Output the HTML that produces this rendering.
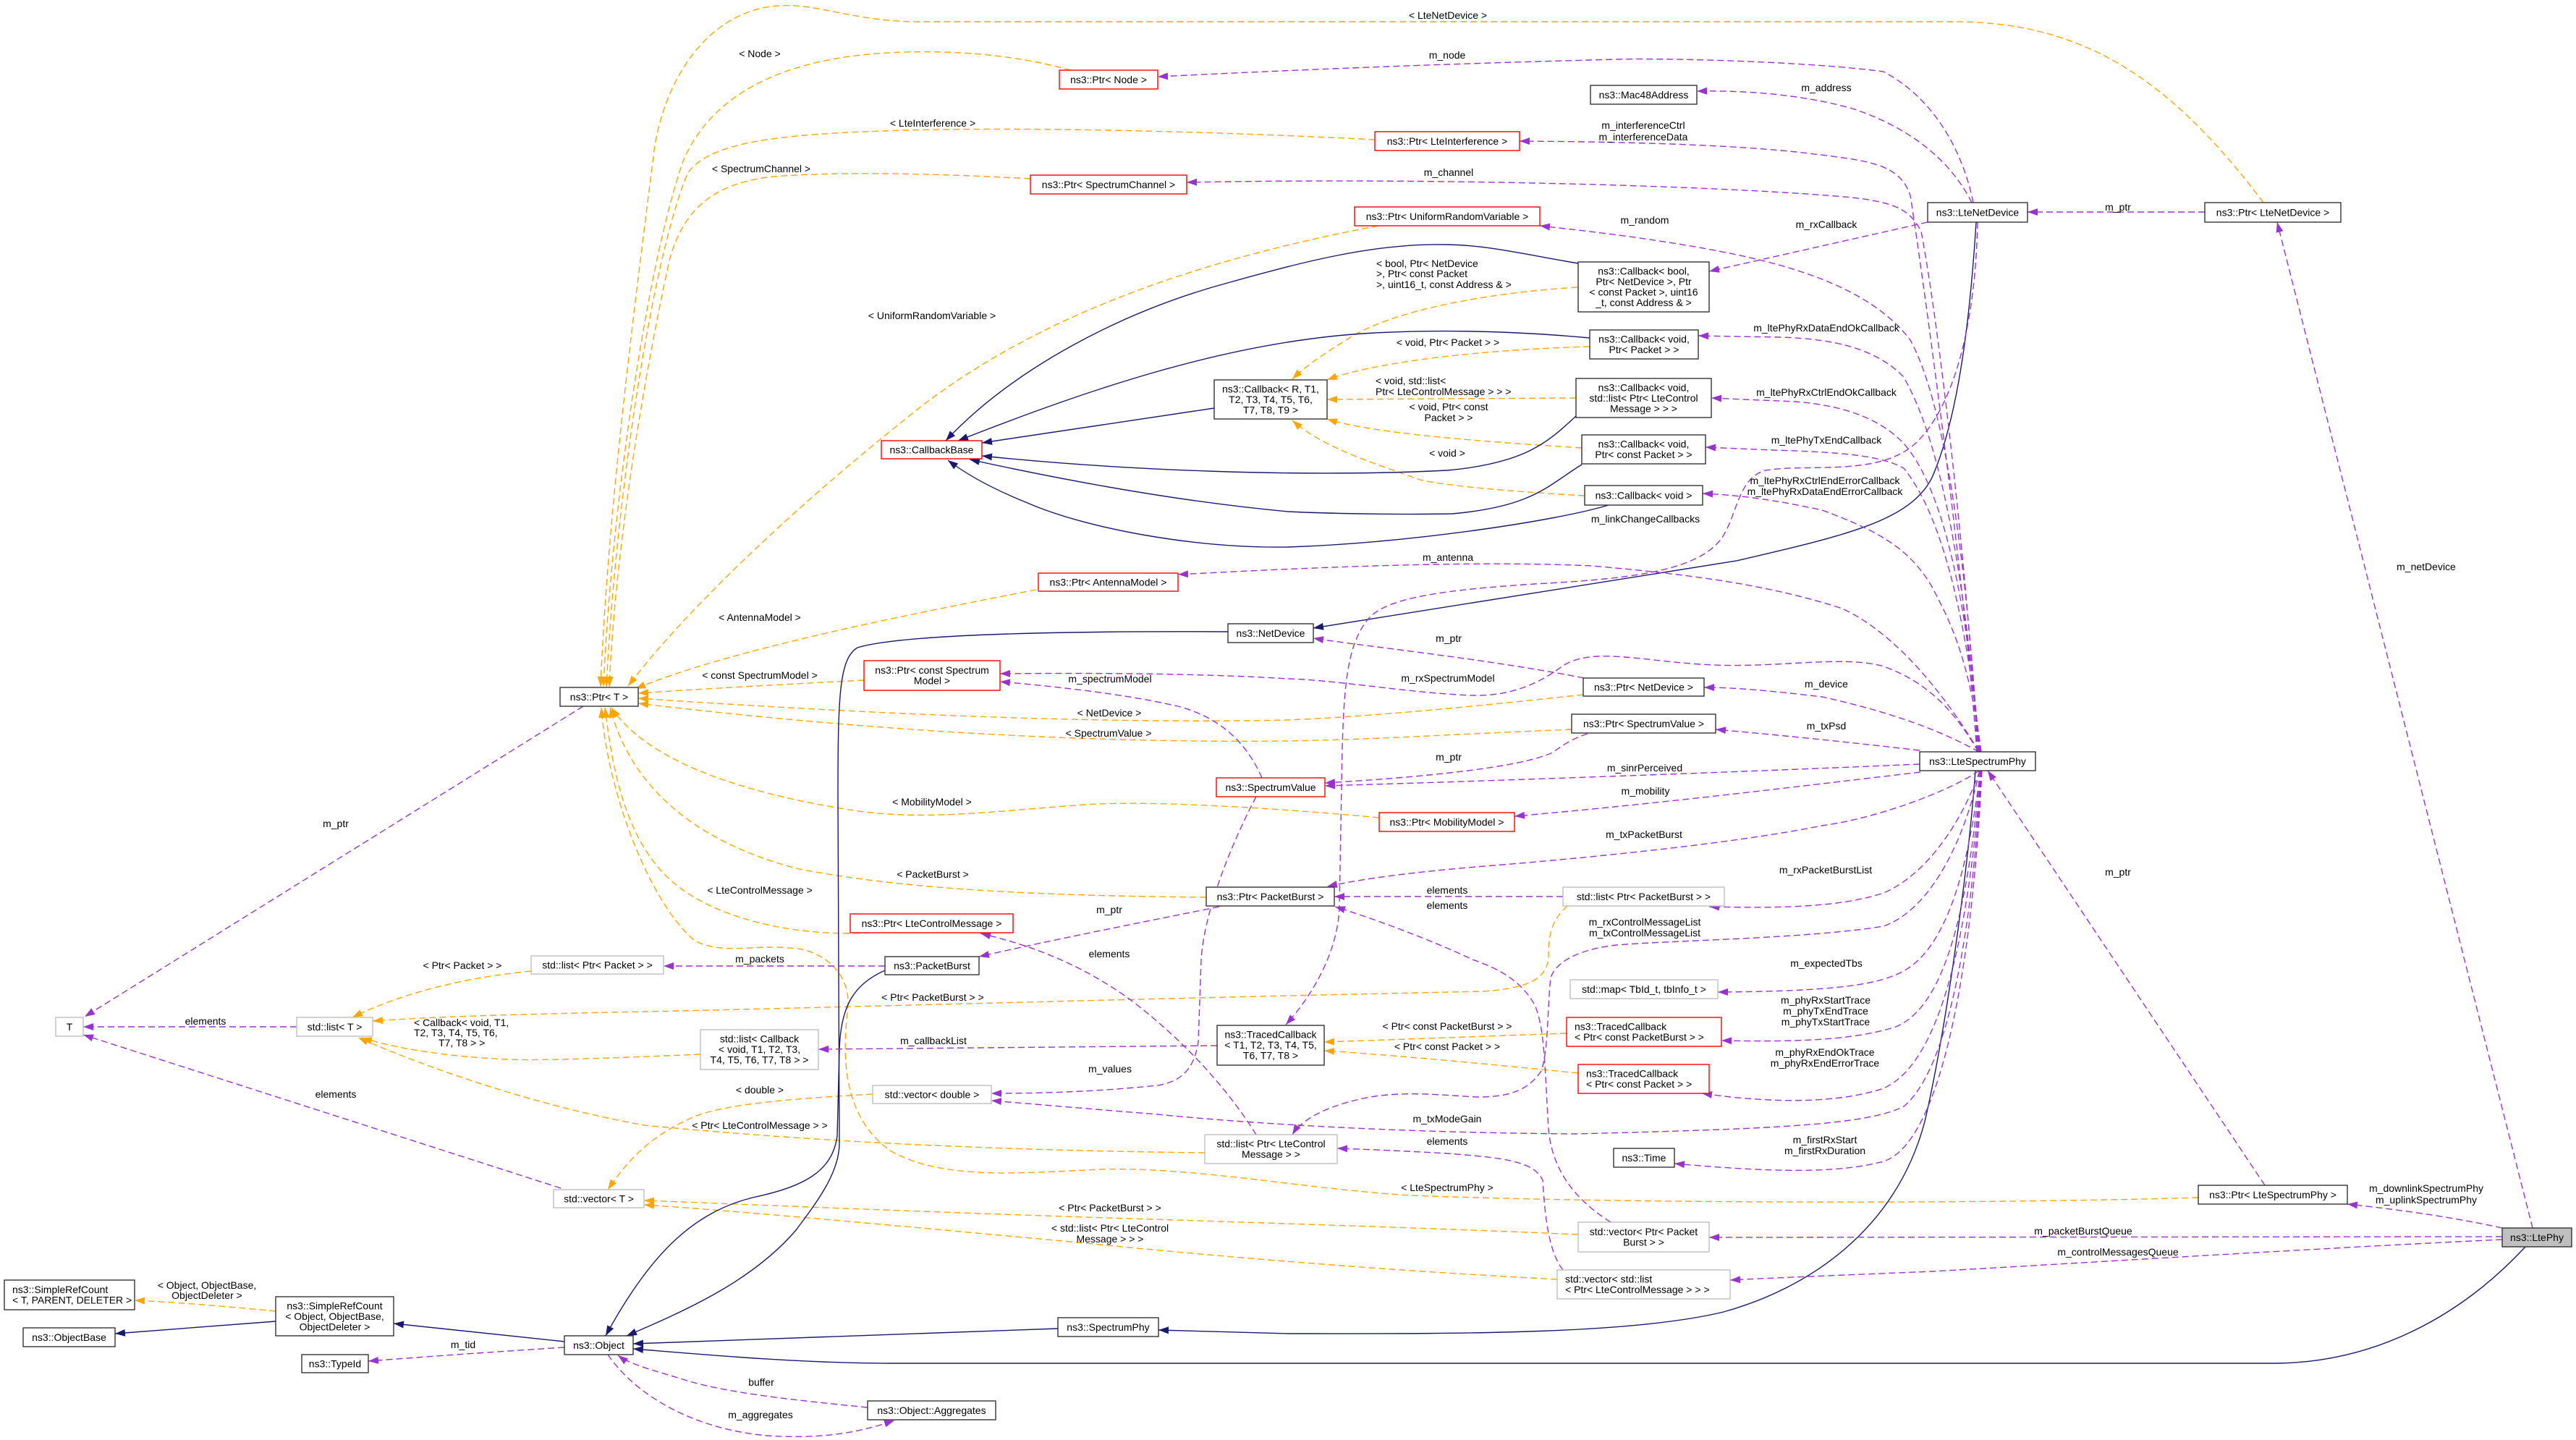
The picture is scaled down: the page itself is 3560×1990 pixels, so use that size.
<!DOCTYPE html>
<html><head><meta charset="utf-8"><style>
html,body{margin:0;padding:0;background:#fff;}
svg{display:block;}
.p{stroke:#9a32cd;fill:none;stroke-width:1.4;stroke-dasharray:9 5;marker-end:url(#mp);}
.o{stroke:#ffa500;fill:none;stroke-width:1.4;stroke-dasharray:9 5;marker-end:url(#mo);}
.n{stroke:#191970;fill:none;stroke-width:1.4;marker-end:url(#mn);}
.bk{fill:#fff;stroke:#333;stroke-width:1.4;}
.rd{fill:#fff;stroke:#ff0000;stroke-width:1.4;}
.gy{fill:#fff;stroke:#bfbfbf;stroke-width:1.4;}
text{font-family:"Liberation Sans",sans-serif;font-size:14px;fill:#000;}
.c{text-anchor:middle;}
</style></head><body>
<svg width="3560" height="1990" viewBox="0 0 3560 1990" xmlns="http://www.w3.org/2000/svg">
<defs>
<marker id="mp" viewBox="0 0 14 10" refX="14" refY="5" markerWidth="14" markerHeight="10" markerUnits="userSpaceOnUse" orient="auto"><path d="M0,0 L14,5 L0,10 z" fill="#9a32cd"/></marker>
<marker id="mo" viewBox="0 0 14 10" refX="14" refY="5" markerWidth="14" markerHeight="10" markerUnits="userSpaceOnUse" orient="auto"><path d="M0,0 L14,5 L0,10 z" fill="#ffa500"/></marker>
<marker id="mn" viewBox="0 0 14 10" refX="14" refY="5" markerWidth="14" markerHeight="10" markerUnits="userSpaceOnUse" orient="auto"><path d="M0,0 L14,5 L0,10 z" fill="#191970"/></marker>
</defs>

<!-- ORANGE template edges -->
<path class="o" d="M3128 280 C3000 110,2880 30,2700 30 L1270 30 C1180 30,1130 4,1075 8 C990 14,925 90,905 200 C880 400,840 700,830 949"/>
<path class="o" d="M1480 97 C1400 75,1320 70,1250 72 C1100 76,990 120,945 220 C895 360,845 700,834 949"/>
<path class="o" d="M1900 193 C1700 183,1450 175,1250 180 C1080 185,980 195,950 240 C900 360,850 700,838 949"/>
<path class="o" d="M1424 247 C1300 240,1150 236,1060 245 C990 255,945 285,925 360 C890 520,850 760,842 949"/>
<path class="o" d="M1905 312 C1650 360,1420 440,1250 580 C1100 700,950 840,868 948"/>
<path class="o" d="M1432 815 C1250 850,1000 900,878 952"/>
<path class="o" d="M1194 940 C1100 945,1000 950,882 958"/>
<path class="o" d="M2188 960 C2050 975,1900 990,1780 995 C1550 1000,1250 990,882 965"/>
<path class="o" d="M2172 1008 C2000 1015,1900 1022,1780 1024 C1500 1027,1200 1010,882 972"/>
<path class="o" d="M1906 1130 C1800 1120,1600 1105,1500 1112 C1380 1120,1280 1135,1180 1120 C1050 1100,900 1060,845 978"/>
<path class="o" d="M1667 1240 C1450 1238,1250 1230,1100 1200 C950 1160,870 1080,843 978"/>
<path class="o" d="M1202 1289 C1100 1295,980 1270,920 1210 C860 1150,845 1050,836 978"/>
<path class="o" d="M3038 1655 C2700 1665,2200 1662,1950 1652 C1800 1643,1650 1612,1520 1616 C1400 1622,1300 1630,1230 1590 C1160 1540,1165 1450,1172 1390 C1175 1340,1130 1310,1090 1310 C1040 1305,1000 1320,960 1300 C900 1250,840 1100,831 978"/>
<path class="o" d="M734 1342 C650 1350,560 1370,487 1406"/>
<path class="o" d="M2166 1252 C2140 1275,2140 1300,2140 1326 C2135 1350,2120 1365,2050 1370 L1780 1376 C1400 1385,1000 1396,890 1398 C700 1402,600 1405,515 1411"/>
<path class="o" d="M968 1457 C850 1462,750 1466,700 1464 C620 1460,550 1450,500 1434"/>
<path class="o" d="M1665 1593 C1400 1590,1150 1580,890 1555 C750 1530,600 1480,495 1434"/>
<path class="o" d="M1206 1512 C1100 1518,1000 1525,955 1545 C900 1570,870 1600,840 1644"/>
<path class="o" d="M2181 1706 C2000 1698,1780 1691,1500 1682 C1200 1672,1000 1663,890 1659"/>
<path class="o" d="M2152 1768 C2000 1760,1780 1746,1500 1718 C1200 1690,1000 1672,890 1665"/>
<path class="o" d="M2165 1428 C2050 1432,1950 1436,1830 1440"/>
<path class="o" d="M2181 1483 C2050 1470,1950 1460,1830 1452"/>
<path class="o" d="M381 1812 C320 1806,250 1800,186 1797"/>
<path class="o" d="M2180 397 C2050 405,1920 430,1860 470 C1820 495,1800 510,1786 524"/>
<path class="o" d="M2197 479 C2050 483,1900 500,1834 525"/>
<path class="o" d="M2178 550 L1834 552"/>
<path class="o" d="M2186 619 C2050 610,1900 600,1834 579"/>
<path class="o" d="M2190 685 C2100 680,2000 672,1962 663 C1900 640,1830 620,1786 581"/>

<!-- NAVY inheritance edges -->
<path class="n" d="M2181 364 C2100 350,2050 338,1996 338 C1900 336,1800 362,1700 390 C1550 430,1400 510,1307 609"/>
<path class="n" d="M2197 467 C2100 458,2000 455,1900 460 C1700 470,1500 540,1324 609"/>
<path class="n" d="M1678 564 L1357 612"/>
<path class="n" d="M2178 575 C2140 610,2110 640,2000 650 C1800 660,1550 650,1357 630"/>
<path class="n" d="M2186 642 C2140 670,2120 700,2007 710 C1900 712,1800 708,1780 707 C1650 695,1500 670,1340 635"/>
<path class="n" d="M2223 698 C2150 720,1950 750,1780 756 C1650 758,1500 730,1420 695 C1370 675,1335 655,1310 636"/>
<path class="n" d="M2731 307 C2722 450,2705 580,2670 660 C2640 720,2550 740,2400 775 L1815 868"/>
<path class="n" d="M1697 873 C1500 872,1250 875,1185 895 C1160 910,1158 960,1158 1100 L1160 1580 C1160 1620,1130 1660,1100 1700 C1040 1770,950 1810,866 1846"/>
<path class="n" d="M1223 1341 C1180 1360,1162 1390,1160 1450 L1157 1570 C1150 1620,1110 1640,1040 1655 C960 1675,900 1730,837 1846"/>
<path class="n" d="M1462 1836 C1200 1845,1000 1852,875 1857"/>
<path class="n" d="M3490 1723 C3400 1820,3280 1884,3141 1884 L1231 1884 C1100 1884,950 1870,875 1864"/>
<path class="n" d="M2730 1065 C2720 1200,2690 1420,2660 1550 C2620 1700,2500 1780,2382 1813 C2250 1845,2000 1843,1780 1843 L1601 1838"/>
<path class="n" d="M780 1854 L544 1829"/>
<path class="n" d="M381 1826 L159 1843"/>

<!-- PURPLE usage edges -->
<path class="p" d="M2727 280 C2715 220,2680 140,2603 99 C2500 85,2300 80,2234 82 C2000 88,1800 96,1600 106"/>
<path class="p" d="M2725 280 C2700 230,2650 180,2560 150 C2480 128,2400 125,2345 126"/>
<path class="p" d="M2732 1039 C2715 800,2660 400,2640 270 C2625 225,2580 222,2500 212 C2400 200,2250 196,2100 195"/>
<path class="p" d="M2733 1039 C2720 800,2680 450,2655 320 C2640 290,2620 280,2560 273 C2400 258,2000 245,1640 252"/>
<path class="p" d="M2734 1039 C2720 800,2690 560,2640 470 C2580 390,2450 360,2348 342 C2250 325,2180 318,2128 312"/>
<path class="p" d="M2664 307 L2362 375"/>
<path class="p" d="M2735 1039 C2720 850,2690 620,2630 520 C2590 480,2530 468,2460 466 L2347 464"/>
<path class="p" d="M2736 1039 C2720 850,2690 680,2631 613 C2600 580,2550 560,2480 555 L2365 550"/>
<path class="p" d="M2737 1039 C2720 880,2690 720,2631 647 C2600 630,2550 625,2450 622 L2357 618"/>
<path class="p" d="M2738 1039 C2720 900,2690 850,2670 811 C2640 760,2600 735,2518 705 C2450 690,2400 684,2353 682"/>
<path class="p" d="M2733 307 C2730 450,2700 560,2650 610 C2600 660,2500 640,2440 650 C2400 660,2400 720,2376 748 C2340 790,2250 800,2121 807 C2000 815,1920 825,1893 853 C1860 890,1856 950,1854 1086 L1851 1255 C1848 1320,1810 1380,1777 1416"/>
<path class="p" d="M2735 1039 C2700 980,2630 880,2546 841 C2450 810,2350 795,2200 782 C2050 775,1850 782,1628 794"/>
<path class="p" d="M2189 937 C2050 910,1900 895,1815 882"/>
<path class="p" d="M2734 1039 C2700 980,2660 940,2600 920 C2540 905,2450 925,2350 918 C2260 912,2200 895,2160 920 C2120 950,2080 962,2035 961 C1950 958,1850 940,1780 938 C1650 930,1500 930,1382 931"/>
<path class="p" d="M1744 1075 C1720 1020,1680 990,1628 976 C1550 958,1450 948,1382 942"/>
<path class="p" d="M2735 1039 C2700 1020,2640 990,2518 963 C2450 955,2400 950,2355 950"/>
<path class="p" d="M2653 1037 C2550 1025,2450 1015,2371 1008"/>
<path class="p" d="M2194 1014 C2160 1025,2150 1040,2138 1043 C2100 1058,2000 1072,1831 1082"/>
<path class="p" d="M2653 1056 C2450 1065,2100 1078,1831 1086"/>
<path class="p" d="M2654 1067 C2500 1085,2300 1110,2093 1128"/>
<path class="p" d="M2735 1065 C2700 1090,2600 1130,2518 1141 C2400 1165,2200 1185,2064 1196 C1950 1205,1880 1215,1834 1225"/>
<path class="p" d="M2160 1239 L1844 1239"/>
<path class="p" d="M2226 1689 C2180 1660,2145 1620,2140 1560 C2135 1480,2135 1420,2121 1389 C2100 1350,2060 1335,2035 1326 C1980 1300,1900 1270,1845 1253"/>
<path class="p" d="M2736 1065 C2710 1140,2660 1210,2603 1234 C2540 1255,2450 1255,2362 1253"/>
<path class="p" d="M2736 1065 C2710 1180,2660 1260,2603 1280 C2500 1297,2300 1300,2234 1306 C2180 1312,2150 1330,2143 1351 C2138 1400,2140 1450,2130 1480 C2110 1510,2080 1516,2041 1516 C2000 1514,1950 1508,1900 1515 C1840 1525,1800 1545,1786 1568"/>
<path class="p" d="M2737 1065 C2720 1200,2690 1320,2620 1347 C2580 1365,2500 1370,2374 1371"/>
<path class="p" d="M2737 1065 C2720 1250,2690 1390,2620 1419 C2560 1438,2480 1440,2379 1438"/>
<path class="p" d="M2738 1065 C2720 1300,2680 1470,2603 1504 C2540 1525,2450 1525,2352 1511"/>
<path class="p" d="M2738 1065 C2725 1300,2690 1480,2631 1529 C2580 1555,2450 1560,2177 1567 C1900 1565,1700 1550,1600 1540 C1500 1532,1420 1525,1370 1521"/>
<path class="p" d="M1736 1101 C1710 1150,1665 1250,1660 1326 L1656 1440 C1650 1480,1630 1495,1600 1500 C1520 1508,1450 1511,1370 1511"/>
<path class="p" d="M1682 1445 L1131 1450"/>
<path class="p" d="M1685 1253 C1550 1280,1450 1300,1353 1322"/>
<path class="p" d="M1223 1335 L917 1335"/>
<path class="p" d="M1736 1568 C1700 1510,1640 1440,1560 1380 C1490 1330,1420 1305,1355 1290"/>
<path class="p" d="M2160 1755 C2140 1730,2135 1680,2132 1631 C2120 1605,2080 1600,2000 1594 C1930 1590,1880 1588,1848 1587"/>
<path class="p" d="M2739 1065 C2725 1350,2680 1580,2603 1605 C2540 1622,2450 1620,2314 1608"/>
<path class="p" d="M3130 1638 L2747 1065"/>
<path class="p" d="M3500 1697 L3147 307"/>
<path class="p" d="M3458 1697 C3380 1680,3300 1670,3244 1664"/>
<path class="p" d="M3458 1709 L2362 1710"/>
<path class="p" d="M3458 1713 C3200 1725,2800 1750,2670 1757 C2550 1762,2450 1766,2391 1769"/>
<path class="p" d="M3047 293 L2802 293"/>
<path class="p" d="M806 976 L117 1405"/>
<path class="p" d="M410 1419 L115 1419"/>
<path class="p" d="M775 1642 L115 1430"/>
<path class="p" d="M780 1862 C700 1867,600 1874,509 1881"/>
<path class="p" d="M1199 1945 C1100 1935,1000 1925,940 1905 C900 1893,870 1885,854 1873"/>
<path class="p" d="M840 1872 C880 1930,960 1975,1060 1984 C1150 1990,1200 1975,1236 1963"/>

<!-- EDGE LABELS -->
<g class="c">
<text x="2001" y="26">&lt; LteNetDevice &gt;</text>
<text x="1050" y="79">&lt; Node &gt;</text>
<text x="2000" y="81">m_node</text>
<text x="2524" y="126">m_address</text>
<text x="2271" y="178">m_interferenceCtrl</text>
<text x="2271" y="194">m_interferenceData</text>
<text x="1289" y="175">&lt; LteInterference &gt;</text>
<text x="1052" y="238">&lt; SpectrumChannel &gt;</text>
<text x="2002" y="243">m_channel</text>
<text x="2273" y="309">m_random</text>
<text x="2524" y="315">m_rxCallback</text>
<text x="2927" y="291">m_ptr</text>
<text x="1288" y="441">&lt; UniformRandomVariable &gt;</text>
<text x="2524" y="458">m_ltePhyRxDataEndOkCallback</text>
<text x="2001" y="478">&lt; void, Ptr&lt; Packet &gt; &gt;</text>
<text x="2524" y="547">m_ltePhyRxCtrlEndOkCallback</text>
<text x="2002" y="567">&lt; void, Ptr&lt; const</text>
<text x="2002" y="582">Packet &gt; &gt;</text>
<text x="2524" y="613">m_ltePhyTxEndCallback</text>
<text x="2000" y="631">&lt; void &gt;</text>
<text x="2522" y="669">m_ltePhyRxCtrlEndErrorCallback</text>
<text x="2522" y="684">m_ltePhyRxDataEndErrorCallback</text>
<text x="2274" y="722">m_linkChangeCallbacks</text>
<text x="2001" y="775">m_antenna</text>
<text x="1050" y="858">&lt; AntennaModel &gt;</text>
<text x="2002" y="887">m_ptr</text>
<text x="1050" y="938">&lt; const SpectrumModel &gt;</text>
<text x="2001" y="942">m_rxSpectrumModel</text>
<text x="1534" y="943">m_spectrumModel</text>
<text x="2524" y="950">m_device</text>
<text x="1533" y="990">&lt; NetDevice &gt;</text>
<text x="2524" y="1008">m_txPsd</text>
<text x="1532" y="1018">&lt; SpectrumValue &gt;</text>
<text x="2002" y="1051">m_ptr</text>
<text x="2273" y="1066">m_sinrPerceived</text>
<text x="2274" y="1098">m_mobility</text>
<text x="1288" y="1113">&lt; MobilityModel &gt;</text>
<text x="464" y="1143">m_ptr</text>
<text x="2272" y="1158">m_txPacketBurst</text>
<text x="2523" y="1207">m_rxPacketBurstList</text>
<text x="2927" y="1210">m_ptr</text>
<text x="1289" y="1213">&lt; PacketBurst &gt;</text>
<text x="1050" y="1235">&lt; LteControlMessage &gt;</text>
<text x="2000" y="1235">elements</text>
<text x="2000" y="1256">elements</text>
<text x="1533" y="1262">m_ptr</text>
<text x="2273" y="1279">m_rxControlMessageList</text>
<text x="2273" y="1294">m_txControlMessageList</text>
<text x="1533" y="1323">elements</text>
<text x="1050" y="1330">m_packets</text>
<text x="2524" y="1336">m_expectedTbs</text>
<text x="639" y="1339">&lt; Ptr&lt; Packet &gt; &gt;</text>
<text x="1289" y="1383">&lt; Ptr&lt; PacketBurst &gt; &gt;</text>
<text x="2523" y="1387">m_phyRxStartTrace</text>
<text x="2523" y="1402">m_phyTxEndTrace</text>
<text x="2523" y="1417">m_phyTxStartTrace</text>
<text x="284" y="1416">elements</text>
<text x="2000" y="1423">&lt; Ptr&lt; const PacketBurst &gt; &gt;</text>
<text x="1290" y="1443">m_callbackList</text>
<text x="2000" y="1451">&lt; Ptr&lt; const Packet &gt; &gt;</text>
<text x="2522" y="1459">m_phyRxEndOkTrace</text>
<text x="2522" y="1474">m_phyRxEndErrorTrace</text>
<text x="1534" y="1482">m_values</text>
<text x="1050" y="1511">&lt; double &gt;</text>
<text x="464" y="1517">elements</text>
<text x="2000" y="1551">m_txModeGain</text>
<text x="1050" y="1560">&lt; Ptr&lt; LteControlMessage &gt; &gt;</text>
<text x="2000" y="1582">elements</text>
<text x="2522" y="1580">m_firstRxStart</text>
<text x="2522" y="1595">m_firstRxDuration</text>
<text x="2000" y="1646">&lt; LteSpectrumPhy &gt;</text>
<text x="3353" y="1647">m_downlinkSpectrumPhy</text>
<text x="3353" y="1663">m_uplinkSpectrumPhy</text>
<text x="1534" y="1674">&lt; Ptr&lt; PacketBurst &gt; &gt;</text>
<text x="1534" y="1702">&lt; std::list&lt; Ptr&lt; LteControl</text>
<text x="1534" y="1717">Message &gt; &gt; &gt;</text>
<text x="2879" y="1706">m_packetBurstQueue</text>
<text x="2927" y="1735">m_controlMessagesQueue</text>
<text x="286" y="1781">&lt; Object, ObjectBase,</text>
<text x="286" y="1795">ObjectDeleter &gt;</text>
<text x="3353" y="788">m_netDevice</text>
<text x="640" y="1863">m_tid</text>
<text x="1052" y="1915">buffer</text>
<text x="1051" y="1960">m_aggregates</text>
</g>
<text x="1902" y="369">&lt; bool, Ptr&lt; NetDevice</text>
<text x="1902" y="383">&gt;, Ptr&lt; const Packet</text>
<text x="1902" y="398">&gt;, uint16_t, const Address &amp; &gt;</text>
<text x="1901" y="531">&lt; void, std::list&lt;</text>
<text x="1901" y="546">Ptr&lt; LteControlMessage &gt; &gt; &gt;</text>
<text x="572" y="1418">&lt; Callback&lt; void, T1,</text>
<text x="572" y="1432">T2, T3, T4, T5, T6,</text>
<text x="606" y="1446">T7, T8 &gt; &gt;</text>

<!-- NODES -->
<rect class="rd" x="1464" y="97" width="136" height="26"/><text class="c" x="1532" y="115">ns3::Ptr&lt; Node &gt;</text>
<rect class="bk" x="2198" y="118" width="147" height="26"/><text class="c" x="2271.5" y="136">ns3::Mac48Address</text>
<rect class="rd" x="1900" y="182" width="200" height="26"/><text class="c" x="2000" y="200">ns3::Ptr&lt; LteInterference &gt;</text>
<rect class="rd" x="1424" y="242" width="216" height="26"/><text class="c" x="1532" y="260">ns3::Ptr&lt; SpectrumChannel &gt;</text>
<rect class="bk" x="2664" y="280" width="138" height="27"/><text class="c" x="2733" y="298.5">ns3::LteNetDevice</text>
<rect class="bk" x="3047" y="280" width="188" height="27"/><text class="c" x="3141" y="298.5">ns3::Ptr&lt; LteNetDevice &gt;</text>
<rect class="rd" x="1872" y="286" width="256" height="26"/><text class="c" x="2000" y="304">ns3::Ptr&lt; UniformRandomVariable &gt;</text>
<rect class="bk" x="2181" y="362" width="181" height="69"/>
<g class="c"><text x="2271.5" y="379.5">ns3::Callback&lt; bool,</text><text x="2271.5" y="394">Ptr&lt; NetDevice &gt;, Ptr</text><text x="2271.5" y="408.5">&lt; const Packet &gt;, uint16</text><text x="2271.5" y="423">_t, const Address &amp; &gt;</text></g>
<rect class="bk" x="2197" y="456" width="150" height="40"/>
<g class="c"><text x="2272" y="473.5">ns3::Callback&lt; void,</text><text x="2272" y="488">Ptr&lt; Packet &gt; &gt;</text></g>
<rect class="bk" x="1678" y="525" width="156" height="54"/>
<g class="c"><text x="1756" y="542.5">ns3::Callback&lt; R, T1,</text><text x="1756" y="557">T2, T3, T4, T5, T6,</text><text x="1756" y="571.5">T7, T8, T9 &gt;</text></g>
<rect class="bk" x="2178" y="523" width="187" height="54"/>
<g class="c"><text x="2271.5" y="540.5">ns3::Callback&lt; void,</text><text x="2271.5" y="555">std::list&lt; Ptr&lt; LteControl</text><text x="2271.5" y="569.5">Message &gt; &gt; &gt;</text></g>
<rect class="rd" x="1218" y="609" width="139" height="25"/><text class="c" x="1287.5" y="626.5">ns3::CallbackBase</text>
<rect class="bk" x="2186" y="601" width="171" height="40"/>
<g class="c"><text x="2271.5" y="618.5">ns3::Callback&lt; void,</text><text x="2271.5" y="633">Ptr&lt; const Packet &gt; &gt;</text></g>
<rect class="bk" x="2190" y="671" width="163" height="27"/><text class="c" x="2271.5" y="689.5">ns3::Callback&lt; void &gt;</text>
<rect class="rd" x="1435" y="792" width="193" height="25"/><text class="c" x="1531.5" y="809.5">ns3::Ptr&lt; AntennaModel &gt;</text>
<rect class="bk" x="1697" y="862" width="118" height="26"/><text class="c" x="1756" y="880">ns3::NetDevice</text>
<rect class="rd" x="1194" y="913" width="188" height="41"/>
<g class="c"><text x="1288" y="931">ns3::Ptr&lt; const Spectrum</text><text x="1288" y="945.5">Model &gt;</text></g>
<rect class="bk" x="2188" y="937" width="167" height="25"/><text class="c" x="2271.5" y="954.5">ns3::Ptr&lt; NetDevice &gt;</text>
<rect class="bk" x="774" y="950" width="108" height="26"/><text class="c" x="828" y="968">ns3::Ptr&lt; T &gt;</text>
<rect class="bk" x="2172" y="987" width="199" height="26"/><text class="c" x="2271.5" y="1005">ns3::Ptr&lt; SpectrumValue &gt;</text>
<rect class="bk" x="2653" y="1039" width="160" height="26"/><text class="c" x="2733" y="1057">ns3::LteSpectrumPhy</text>
<rect class="rd" x="1681" y="1075" width="150" height="26"/><text class="c" x="1756" y="1093">ns3::SpectrumValue</text>
<rect class="rd" x="1906" y="1123" width="187" height="26"/><text class="c" x="1999.5" y="1141">ns3::Ptr&lt; MobilityModel &gt;</text>
<rect class="bk" x="1667" y="1226" width="177" height="26"/><text class="c" x="1755.5" y="1244">ns3::Ptr&lt; PacketBurst &gt;</text>
<rect class="gy" x="2160" y="1226" width="223" height="26"/><text class="c" x="2271.5" y="1244">std::list&lt; Ptr&lt; PacketBurst &gt; &gt;</text>
<rect class="rd" x="1175" y="1263" width="225" height="26"/><text class="c" x="1287.5" y="1281">ns3::Ptr&lt; LteControlMessage &gt;</text>
<rect class="bk" x="1223" y="1322" width="130" height="25"/><text class="c" x="1288" y="1339.5">ns3::PacketBurst</text>
<rect class="gy" x="734" y="1321" width="183" height="25"/><text class="c" x="825.5" y="1338.5">std::list&lt; Ptr&lt; Packet &gt; &gt;</text>
<rect class="gy" x="2170" y="1354" width="204" height="26"/><text class="c" x="2272" y="1372">std::map&lt; TbId_t, tbInfo_t &gt;</text>
<rect class="gy" x="77" y="1406" width="38" height="26"/><text class="c" x="96" y="1424">T</text>
<rect class="gy" x="410" y="1406" width="105" height="26"/><text class="c" x="462.5" y="1424">std::list&lt; T &gt;</text>
<rect class="rd" x="2165" y="1406" width="214" height="40"/>
<text x="2176" y="1423.5">ns3::TracedCallback</text><text x="2176" y="1438">&lt; Ptr&lt; const PacketBurst &gt; &gt;</text>
<rect class="gy" x="968" y="1423" width="163" height="55"/>
<g class="c"><text x="1049.5" y="1440.5">std::list&lt; Callback</text><text x="1049.5" y="1455">&lt; void, T1, T2, T3,</text><text x="1049.5" y="1469.5">T4, T5, T6, T7, T8 &gt; &gt;</text></g>
<rect class="bk" x="1682" y="1417" width="148" height="55"/>
<g class="c"><text x="1756" y="1434.5">ns3::TracedCallback</text><text x="1756" y="1449">&lt; T1, T2, T3, T4, T5,</text><text x="1756" y="1463.5">T6, T7, T8 &gt;</text></g>
<rect class="rd" x="2181" y="1471" width="181" height="40"/>
<text x="2192" y="1488.5">ns3::TracedCallback</text><text x="2192" y="1503">&lt; Ptr&lt; const Packet &gt; &gt;</text>
<rect class="gy" x="1206" y="1500" width="164" height="25"/><text class="c" x="1288" y="1517.5">std::vector&lt; double &gt;</text>
<rect class="gy" x="1665" y="1568" width="183" height="40"/>
<g class="c"><text x="1756.5" y="1585.5">std::list&lt; Ptr&lt; LteControl</text><text x="1756.5" y="1600">Message &gt; &gt;</text></g>
<rect class="bk" x="2230" y="1587" width="84" height="26"/><text class="c" x="2272" y="1605">ns3::Time</text>
<rect class="gy" x="765" y="1644" width="125" height="25"/><text class="c" x="827.5" y="1661.5">std::vector&lt; T &gt;</text>
<rect class="bk" x="3038" y="1638" width="206" height="26"/><text class="c" x="3141" y="1656">ns3::Ptr&lt; LteSpectrumPhy &gt;</text>
<rect class="gy" x="2181" y="1689" width="181" height="41"/>
<g class="c"><text x="2271.5" y="1707">std::vector&lt; Ptr&lt; Packet</text><text x="2271.5" y="1721.5">Burst &gt; &gt;</text></g>
<rect x="3458" y="1697" width="96" height="26" fill="#bfbfbf" stroke="#333" stroke-width="1.4"/><text class="c" x="3506" y="1715">ns3::LtePhy</text>
<rect class="gy" x="2152" y="1755" width="239" height="40"/>
<text x="2163" y="1772.5">std::vector&lt; std::list</text><text x="2163" y="1787">&lt; Ptr&lt; LteControlMessage &gt; &gt; &gt;</text>
<rect class="bk" x="6" y="1769" width="180" height="41"/>
<text x="17" y="1787">ns3::SimpleRefCount</text><text x="17" y="1801.5">&lt; T, PARENT, DELETER &gt;</text>
<rect class="bk" x="381" y="1792" width="163" height="54"/>
<g class="c"><text x="462.5" y="1809.5">ns3::SimpleRefCount</text><text x="462.5" y="1824">&lt; Object, ObjectBase,</text><text x="462.5" y="1838.5">ObjectDeleter &gt;</text></g>
<rect class="bk" x="1462" y="1821" width="139" height="26"/><text class="c" x="1531.5" y="1839">ns3::SpectrumPhy</text>
<rect class="bk" x="32" y="1835" width="127" height="26"/><text class="c" x="95.5" y="1853">ns3::ObjectBase</text>
<rect class="bk" x="780" y="1846" width="95" height="26"/><text class="c" x="827.5" y="1864">ns3::Object</text>
<rect class="bk" x="417" y="1872" width="92" height="25"/><text class="c" x="463" y="1889.5">ns3::TypeId</text>
<rect class="bk" x="1199" y="1936" width="177" height="26"/><text class="c" x="1287.5" y="1954">ns3::Object::Aggregates</text>
</svg>
</body></html>
